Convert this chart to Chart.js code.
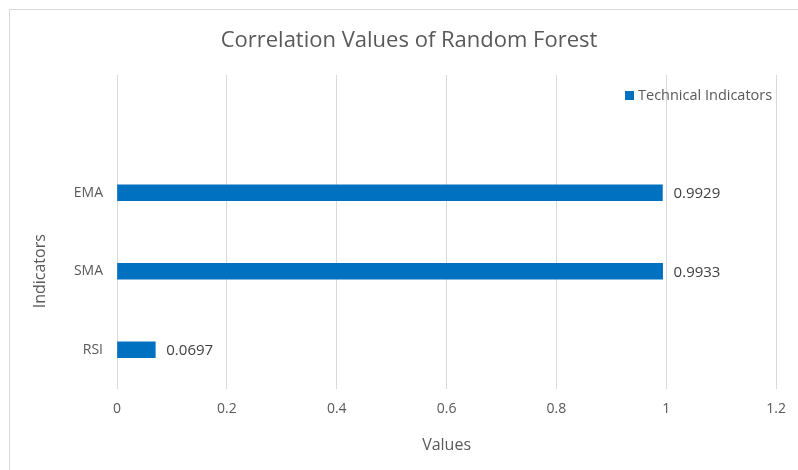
<!DOCTYPE html>
<html>
<head>
<meta charset="utf-8">
<script src="https://cdn.jsdelivr.net/npm/chart.js@4"></script>
<style>
  html, body { margin: 0; padding: 0; background: #fff; }
  #wrap { width: 798px; height: 470px; position: relative; }
</style>
</head>
<body>
<div id="wrap"><canvas id="chart" width="798" height="470"></canvas></div>
<script>
// data
const categories = ['EMA', 'SMA', 'RSI'];
const values = [0.9929, 0.9933, 0.0697];
const xTicks = [0, 0.2, 0.4, 0.6, 0.8, 1, 1.2];
const seriesName = 'Technical Indicators';
const chartTitle = 'Correlation Values of Random Forest';

const barColor = '#0070c0';
const textColor = '#595959';
const gridColor = '#d9d9d9';
const font = "'Open Sans', sans-serif";

// the sheet has an empty row on top, keep it as a blank band
const labels = [''].concat(categories);
const data = [null].concat(values);

// grey frame (top + left only, the rest is cropped) and the title
const framePlugin = {
    id: 'frame',
    beforeDraw(chart) {
        const ctx = chart.ctx;
        ctx.save();
        ctx.strokeStyle = gridColor;
        ctx.lineWidth = 1;
        ctx.beginPath();
        ctx.moveTo(9.5, 470);
        ctx.lineTo(9.5, 9.5);
        ctx.lineTo(798, 9.5);
        ctx.stroke();
        ctx.font = "22px " + font;
        ctx.fillStyle = textColor;
        ctx.textAlign = 'center';
        ctx.textBaseline = 'middle';
        ctx.fillText(chartTitle, 409, 41);
        ctx.restore();
    }
};

// value labels right of each bar
const valueLabels = {
    id: 'valueLabels',
    afterDatasetsDraw(chart) {
        const ctx = chart.ctx;
        const meta = chart.getDatasetMeta(0);
        ctx.save();
        ctx.font = "15px " + font;
        ctx.fillStyle = '#404040';
        ctx.textAlign = 'left';
        ctx.textBaseline = 'middle';
        meta.data.forEach((bar, i) => {
            const v = data[i];
            if (v === null) return;
            ctx.fillText(v.toFixed(4), bar.x + 11, bar.y + 1);
        });
        ctx.restore();
    }
};

// legend sits inside the plot, top right
const innerLegend = {
    id: 'innerLegend',
    afterDraw(chart) {
        const ctx = chart.ctx;
        const area = chart.chartArea;
        ctx.save();
        ctx.font = "14.5px " + font;
        const w = ctx.measureText(seriesName).width;
        const x = area.right - 4 - w;
        const y = area.top + 21;
        ctx.fillStyle = barColor;
        ctx.fillRect(x - 13, y - 5, 9, 9);
        ctx.fillStyle = textColor;
        ctx.textAlign = 'left';
        ctx.textBaseline = 'middle';
        ctx.fillText(seriesName, x, y);
        ctx.restore();
    }
};

// y axis title centred on the real categories
const yTitle = {
    id: 'yTitle',
    afterDraw(chart) {
        const ctx = chart.ctx;
        const y = chart.scales.y;
        const cy = (y.getPixelForValue(1) + y.getPixelForValue(labels.length - 1)) / 2;
        ctx.save();
        ctx.translate(40, cy);
        ctx.rotate(-Math.PI / 2);
        ctx.font = "16px " + font;
        ctx.fillStyle = textColor;
        ctx.textAlign = 'center';
        ctx.textBaseline = 'middle';
        ctx.fillText('Indicators', 0, 0);
        ctx.restore();
    }
};

const ctx = document.getElementById('chart').getContext('2d');
const chart = new Chart(ctx, {
    type: 'bar',
    data: {
        labels: labels,
        datasets: [{
            label: seriesName,
            data: data,
            backgroundColor: barColor,
            barThickness: 16
        }]
    },
    options: {
        indexAxis: 'y',
        responsive: false,
        animation: false,
        layout: { padding: { left: 10, right: 19, top: 75, bottom: 15 } },
        plugins: {
            legend: { display: false },
            tooltip: { enabled: false },
            title: { display: false }
        },
        scales: {
            x: {
                min: 0,
                max: 1.2,
                afterBuildTicks: s => { s.ticks = xTicks.map(v => ({ value: v })); },
                ticks: {
                    color: textColor,
                    font: { family: font, size: 14 },
                    padding: 12,
                    callback: v => String(Math.round(v * 10) / 10)
                },
                grid: { color: gridColor, drawTicks: false },
                border: { display: false },
                title: {
                    display: true,
                    text: 'Values',
                    color: textColor,
                    font: { family: font, size: 16 },
                    padding: { top: 6, bottom: 0 }
                }
            },
            y: {
                afterFit: s => { s.width = 107; },
                ticks: {
                    color: textColor,
                    font: { family: font, size: 14 },
                    padding: 14
                },
                grid: { display: false, drawTicks: false },
                border: { display: false }
            }
        }
    },
    plugins: [framePlugin, valueLabels, innerLegend, yTitle]
});
</script>
</body>
</html>
